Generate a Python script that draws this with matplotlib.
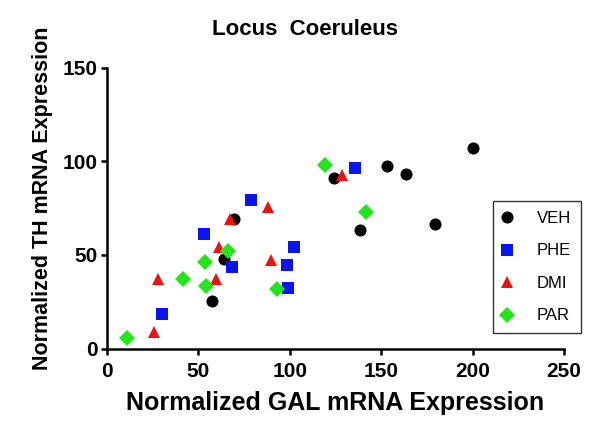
import matplotlib
matplotlib.use("Agg")
import matplotlib.pyplot as plt

plt.rcParams["font.family"] = ["Liberation Sans", "DejaVu Sans"]

# group data (GAL, TH)
veh_x = [57.6, 64.2, 69.6, 124.5, 153.3, 163.4, 138.7, 179.2, 200.2]
veh_y = [25.4, 48.0, 69.3, 91.3, 97.6, 93.1, 63.4, 66.6, 107.3]
phe_x = [30.1, 53.4, 68.7, 78.8, 98.6, 102.1, 99.0, 135.5]
phe_y = [18.4, 61.3, 43.5, 79.2, 44.6, 54.1, 32.2, 96.7]
dmi_x = [25.7, 28.2, 59.8, 61.4, 67.5, 88.1, 89.7, 128.5]
dmi_y = [8.9, 37.1, 37.1, 54.1, 69.3, 75.4, 47.1, 92.7]
par_x = [11.3, 41.4, 53.9, 54.5, 66.0, 93.2, 119.4, 141.5]
par_y = [5.5, 37.2, 46.0, 33.5, 51.9, 31.7, 98.1, 73.1]

groups = [
    ("VEH", veh_x, veh_y, "o", "black", 8.7),
    ("PHE", phe_x, phe_y, "s", "#0a14f0", 9),
    ("DMI", dmi_x, dmi_y, "^", "#f01010", 9),
    ("PAR", par_x, par_y, "D", "#22e61a", 7.7),
]

fig = plt.figure(figsize=(6, 4.24), dpi=100)
ax = fig.add_axes([0.178, 0.178, 0.762, 0.662])

for name, xs, ys, mk, col, ms in groups:
    ax.plot(xs, ys, linestyle="none", marker=mk, color=col, ms=ms,
            markeredgewidth=0, label=name)

ax.set_xlim(0, 250)
ax.set_ylim(0, 150)
ax.set_xticks([0, 50, 100, 150, 200, 250])
ax.set_yticks([0, 50, 100, 150])
for s in ("top", "right"):
    ax.spines[s].set_visible(False)
for s in ("left", "bottom"):
    ax.spines[s].set_linewidth(1.8)
ax.tick_params(direction="out", length=4.5, width=1.8, labelsize=15)
ax.tick_params(axis="x", pad=5.5)
ax.tick_params(axis="y", pad=2)
for lab in ax.get_xticklabels() + ax.get_yticklabels():
    lab.set_fontweight("bold")

ax.set_xlabel("Normalized GAL mRNA Expression", fontsize=18, fontweight="bold",
              va="baseline")
ax.set_ylabel("Normalized TH mRNA Expression", fontsize=15.5, fontweight="bold",
              va="baseline")
ax.xaxis.set_label_coords(0.5, -0.22)
ax.yaxis.set_label_coords(-0.128, 0.537)
fig.text(305 / 600, 1 - 35 / 424, "Locus  Coeruleus", fontsize=16,
         fontweight="bold", ha="center", va="baseline")

leg = ax.legend(loc="lower right", bbox_to_anchor=(1.037, 0.054), borderaxespad=0,
                frameon=True, fancybox=False, edgecolor="black", fontsize=12,
                labelspacing=1.05, handletextpad=1.6, borderpad=0.6,
                handlelength=0.4)
leg.get_frame().set_linewidth(1.0)

fig.savefig("out.png", dpi=100)
